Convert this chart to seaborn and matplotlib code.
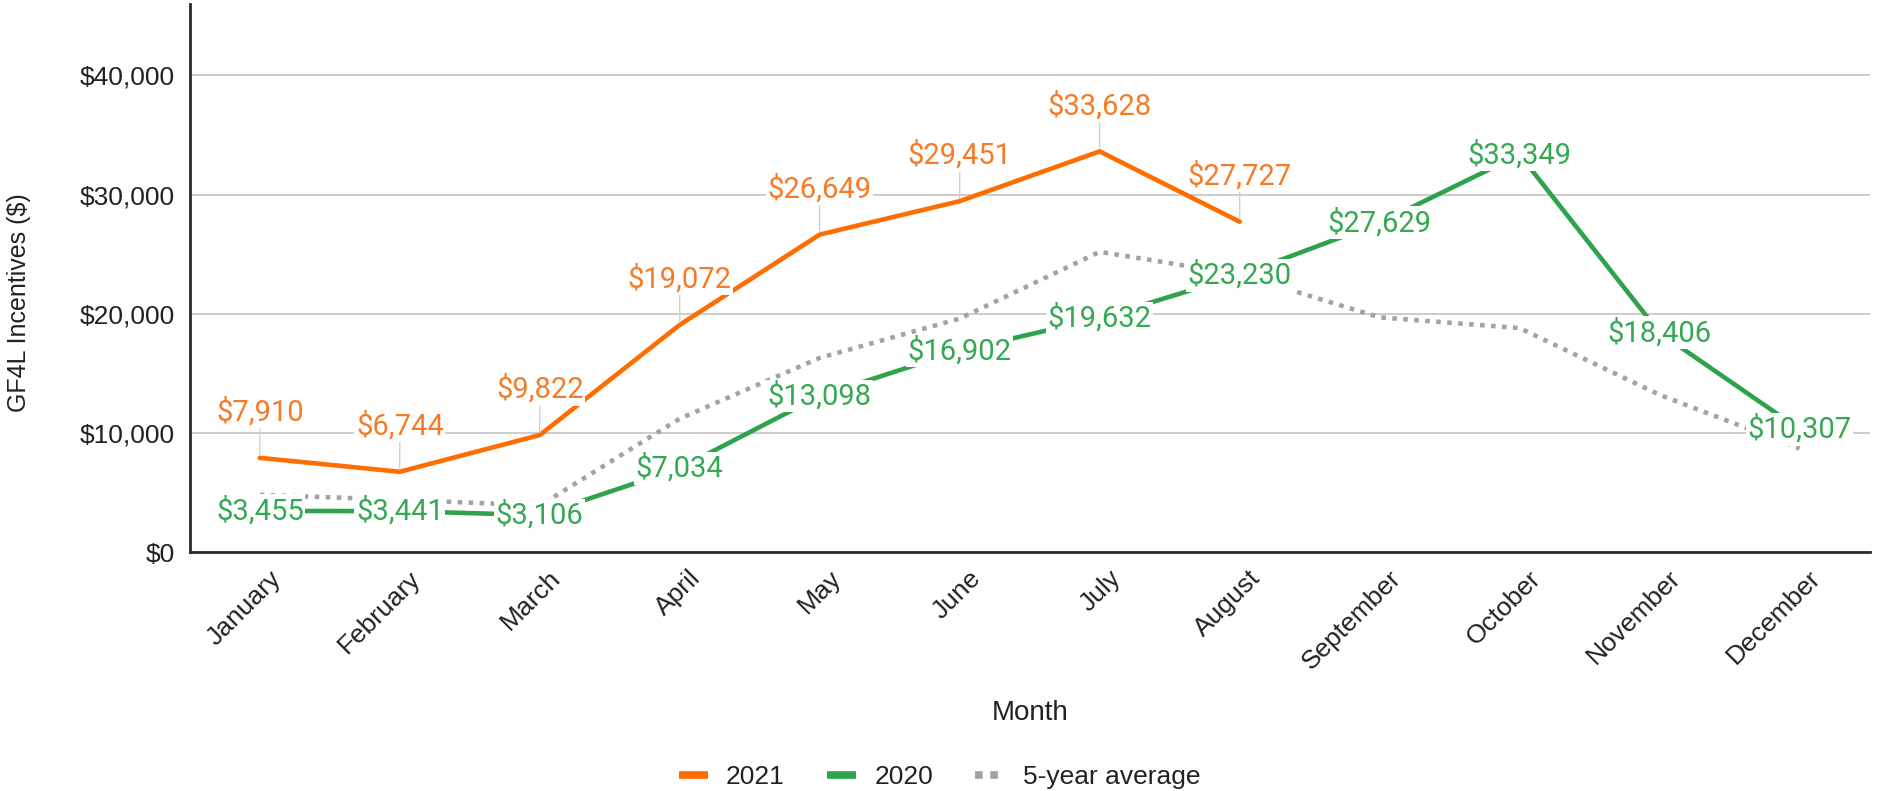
import numpy as np
import pandas as pd
import matplotlib
matplotlib.use("Agg")
import matplotlib.pyplot as plt
import matplotlib.transforms as mtransforms
from matplotlib.lines import Line2D
from matplotlib.ticker import StrMethodFormatter
import seaborn as sns

months = ["January", "February", "March", "April", "May", "June", "July",
          "August", "September", "October", "November", "December"]
incent_2021 = [7910, 6744, 9822, 19072, 26649, 29451, 33628, 27727]
incent_2020 = [3455, 3441, 3106, 7034, 13098, 16902, 19632, 23230, 27629,
               33349, 18406, 10307]
avg_5yr = [4800, 4400, 3900, 11200, 16300, 19600, 25200, 23300, 19700,
           18800, 13200, 8700]

ORANGE = "#ff6d01"
ORANGE_TXT = "#f77a26"
GREEN = "#2fa24c"
GREEN_TXT = "#34a853"
GRAY = "#a3a3a3"

# long form table for seaborn
rows = []
for i, v in enumerate(avg_5yr):
    rows.append(("5-year average", i, v))
for i, v in enumerate(incent_2020):
    rows.append(("2020", i, v))
for i, v in enumerate(incent_2021):
    rows.append(("2021", i, v))
df = pd.DataFrame(rows, columns=["series", "pos", "value"])

sns.set_style("white")
plt.rcParams["font.family"] = ["Liberation Sans", "DejaVu Sans"]

fig, ax = plt.subplots(figsize=(18.79, 7.91), dpi=100)
fig.subplots_adjust(left=0.101, right=0.995, bottom=0.302, top=0.995)

sns.lineplot(data=df, x="pos", y="value", hue="series", style="series",
             hue_order=["5-year average", "2020", "2021"],
             style_order=["5-year average", "2020", "2021"],
             palette={"5-year average": GRAY, "2020": GREEN, "2021": ORANGE},
             dashes={"5-year average": (1, 1.4), "2020": "", "2021": ""},
             linewidth=3.3, legend=False, ax=ax, zorder=3)

ax.set_xlim(-0.5, 11.5)
ax.set_ylim(0, 46000)
ax.set_yticks([0, 10000, 20000, 30000, 40000])
ax.yaxis.set_major_formatter(StrMethodFormatter("${x:,.0f}"))
ax.yaxis.grid(True, color="#cccccc", linewidth=1.4, zorder=0)
ax.set_axisbelow(True)

for s in ["top", "right"]:
    ax.spines[s].set_visible(False)
for s in ["left", "bottom"]:
    ax.spines[s].set_color("#2b2b2b")
    ax.spines[s].set_linewidth(2)

ax.tick_params(axis="both", length=0, labelsize=19, colors="#222222")
ax.tick_params(axis="y", pad=11)
ax.tick_params(axis="x", pad=10)
ax.set_xticks(range(len(months)))
ax.set_xticklabels(months, rotation=45, ha="right", va="top",
                   rotation_mode="anchor")
shift = mtransforms.ScaledTranslation(0.09, 0, fig.dpi_scale_trans)
for lab in ax.get_xticklabels():
    lab.set_transform(lab.get_transform() + shift)

ax.set_xlabel("Month", fontsize=20, color="#222222")
ax.xaxis.set_label_coords(0.5, -(713 - 552) / 548)
ax.xaxis.label.set_va("center")
ax.set_ylabel("GF4L Incentives ($)", fontsize=18, color="#222222")
ax.yaxis.set_label_coords(-0.1018, 0.456)
ax.yaxis.label.set_va("center")

# data labels
lab_font = ["Roboto", "DejaVu Sans"]
for i, v in enumerate(incent_2021):
    ax.annotate(f"${v:,}", (i, v), xytext=(0, 33), textcoords="offset points",
                ha="center", va="center", fontsize=21, color=ORANGE_TXT,
                family=lab_font, zorder=6,
                bbox=dict(boxstyle="square,pad=0.06", fc="white", ec="none"),
                arrowprops=dict(arrowstyle="-", color="#d2d2d2", lw=1,
                                shrinkA=0, shrinkB=2))
for i, v in enumerate(incent_2020):
    ax.text(i, v, f"${v:,}", ha="center", va="center", fontsize=21,
            color=GREEN_TXT, family=lab_font, zorder=6,
            bbox=dict(boxstyle="square,pad=0.06", fc="white", ec="none"))

handles = [
    Line2D([], [], color=ORANGE, lw=5.5, solid_capstyle="butt"),
    Line2D([], [], color=GREEN, lw=5.5, solid_capstyle="butt"),
    Line2D([], [], color=GRAY, lw=5.5, linestyle=(0, (1, 1))),
]
fig.legend(handles, ["2021", "2020", "5-year average"], loc="center",
           bbox_to_anchor=(0.5, 1 - 777 / 791), ncol=3, frameon=False,
           fontsize=19, handlelength=1.1, handletextpad=0.7,
           columnspacing=1.6, labelcolor="#222222")

fig.savefig("out.png", dpi=100)
